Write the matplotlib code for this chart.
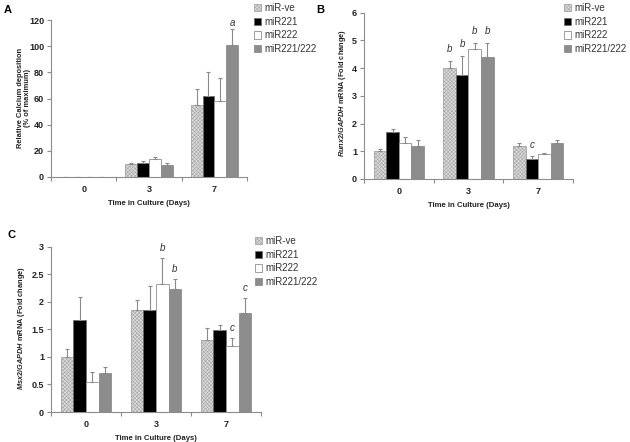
import numpy as np
import matplotlib
matplotlib.use("Agg")
import matplotlib.pyplot as plt
from matplotlib.ticker import FuncFormatter, FixedLocator
from matplotlib.patches import Patch

plt.rcParams['font.family'] = ['Liberation Sans', 'DejaVu Sans']
plt.rcParams['mathtext.fontset'] = 'custom'
plt.rcParams['mathtext.it'] = 'Liberation Sans:italic:bold'
plt.rcParams['mathtext.rm'] = 'Liberation Sans:bold'
plt.rcParams['hatch.linewidth'] = 0.4

days = ["0", "3", "7"]
series = ["miR-ve", "miR221", "miR222", "miR221/222"]

# panel A - calcium deposition
calc_mean = [[0, 10, 55], [0, 11, 62], [0, 13.5, 58], [0, 9.5, 101]]
calc_err = [[0, 0.5, 12.5], [0, 1.5, 18], [0, 1.5, 18], [0, 1, 12]]
calc_letters = [(3, 2, "a", 118)]

# panel B - Runx2
runx_mean = [[1.0, 4.02, 1.2], [1.68, 3.77, 0.73], [1.3, 4.7, 0.9], [1.2, 4.4, 1.3]]
runx_err = [[0.08, 0.23, 0.1], [0.12, 0.65, 0.1], [0.2, 0.22, 0.05], [0.2, 0.52, 0.1]]
runx_letters = [(0, 1, "b", 4.69), (1, 1, "b", 4.86), (2, 1, "b", 5.34),
                (3, 1, "b", 5.34), (1, 2, "c", 1.23)]

# panel C - Msx2
msx_mean = [[1.0, 1.85, 1.3], [1.67, 1.86, 1.48], [0.55, 2.32, 1.19], [0.7, 2.24, 1.8]]
msx_err = [[0.14, 0.18, 0.23], [0.42, 0.42, 0.09], [0.17, 0.48, 0.15], [0.12, 0.17, 0.27]]
msx_letters = [(2, 1, "b", 2.98), (3, 1, "b", 2.6), (2, 2, "c", 1.53), (3, 2, "c", 2.25)]

faces = ['#dcdcdc', '#000000', '#ffffff', '#8c8c8c']
edges = ['#a5a5a5', '#6f6f6f', '#8f8f8f', '#8c8c8c']
hatches = ['xxxxxxxxx', None, None, None]
W = 0.18
axcol = '#8c8c8c'


def px_axes(fig, x0, x1, y0, y1):
    return fig.add_axes([x0 / 630, (442 - y1) / 442, (x1 - x0) / 630, (y1 - y0) / 442])


def panel(ax, means, errs, letters, ymax, ystep):
    x = np.arange(len(days))
    for i in range(4):
        pos = x + (i - 1.5) * W
        ax.bar(pos, means[i], W, color=faces[i], edgecolor=edges[i], lw=0.6,
               hatch=hatches[i], zorder=2)
        ax.errorbar(pos, means[i], yerr=[np.zeros(3), errs[i]], fmt='none',
                    ecolor='#8a8a8a', elinewidth=0.8, capsize=1.5, capthick=0.8, zorder=3)
    for i, g, s, y in letters:
        ax.text(x[g] + (i - 1.5) * W, y, s, style='italic', fontsize=7,
                ha='center', va='center', color='#333333')
    ax.set_xlim(-0.5, 2.5)
    ax.set_ylim(0, ymax)
    ax.set_yticks(np.arange(0, ymax + ystep / 2, ystep))
    ax.yaxis.set_major_formatter(FuncFormatter(lambda v, p: '%g' % v))
    ax.xaxis.set_major_locator(FixedLocator([-0.5, 0.5, 1.5, 2.5]))
    ax.xaxis.set_major_formatter(FuncFormatter(lambda v, p: ''))
    ax.set_xticks(x, minor=True)
    ax.set_xticklabels(days, minor=True)
    ax.tick_params(axis='x', which='minor', length=0, pad=6, labelsize=6.5)
    ax.tick_params(axis='x', which='major', length=3, color=axcol, width=0.8)
    ax.tick_params(axis='y', length=3, color=axcol, width=0.8, labelsize=6.5, pad=2)
    for lab in ax.get_xticklabels(minor=True) + ax.get_yticklabels():
        lab.set_fontweight('bold')
        lab.set_color('#222222')
    for s in ['top', 'right']:
        ax.spines[s].set_visible(False)
    for s in ['left', 'bottom']:
        ax.spines[s].set_color(axcol)
        ax.spines[s].set_linewidth(0.8)
    ax.set_xlabel("Time in Culture (Days)", fontsize=5.6, fontweight='bold',
                  color='#222222', labelpad=4)


def legend(fig, xpx, ypx):
    handles = [Patch(facecolor=faces[i], edgecolor=edges[i], hatch=hatches[i], lw=0.6)
               for i in range(4)]
    fig.legend(handles, series, loc='upper left',
               bbox_to_anchor=(xpx / 630, 1 - ypx / 442), bbox_transform=fig.transFigure,
               frameon=False, fontsize=7, handlelength=0.75, handleheight=0.75,
               handletextpad=0.3, labelspacing=0.38, borderpad=0, borderaxespad=0,
               labelcolor='#333333')


fig = plt.figure(figsize=(6.3, 4.42), dpi=100)

axA = px_axes(fig, 51, 247, 20, 177)
panel(axA, calc_mean, calc_err, calc_letters, 120, 20)
fig.text(24 / 630, 1 - 98 / 442, "Relative Calcium deposition\n(% of maximum)",
         rotation=90, ha='center', va='center', fontsize=5.4, fontweight='bold',
         color='#222222', linespacing=1.15)
legend(fig, 254, 3)
fig.text(4 / 630, 1 - 10 / 442, "A", fontsize=8, fontweight='bold', va='center')

axB = px_axes(fig, 364, 573, 12.7, 179)
panel(axB, runx_mean, runx_err, runx_letters, 6, 1)
fig.text(342 / 630, 1 - 93 / 442, r"$\mathit{Runx2/GAPDH}$ mRNA (Fold change)",
         rotation=90, ha='center', va='center', fontsize=5.3, fontweight='bold',
         color='#222222')
legend(fig, 564, 3)
fig.text(316 / 630, 1 - 10 / 442, "B", fontsize=8, fontweight='bold', va='center')

axC = px_axes(fig, 51, 261, 246.7, 412)
panel(axC, msx_mean, msx_err, msx_letters, 3, 0.5)
fig.text(22 / 630, 1 - 328 / 442, r"$\mathit{Msx2/GAPDH}$ mRNA (Fold change)",
         rotation=90, ha='center', va='center', fontsize=5.3, fontweight='bold',
         color='#222222')
legend(fig, 255, 236)
fig.text(7 / 630, 1 - 235 / 442, "C", fontsize=8, fontweight='bold', va='center')

fig.savefig("out.png", dpi=100)
